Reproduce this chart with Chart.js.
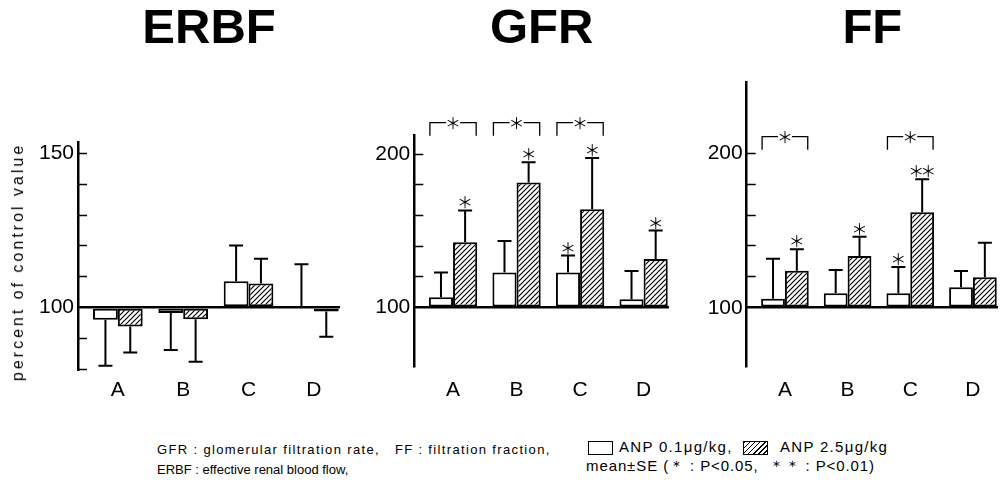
<!DOCTYPE html>
<html>
<head>
<meta charset="utf-8">
<script src="https://cdn.jsdelivr.net/npm/chart.js@4/dist/chart.umd.min.js"></script>
<style>
  body { margin: 0; background: #fff; }
  #page { position: relative; width: 1002px; height: 480px; overflow: hidden; background: #fff;
          font-family: 'Liberation Sans', Arial, sans-serif; color: #000; }
  canvas { position: absolute; top: 0; }
  .txt { position: absolute; white-space: nowrap; line-height: 14px; }
  .note { font-size: 13px; }
  .leg { font-size: 15px; letter-spacing: 1.3px; }
  .box { position: absolute; width: 23px; height: 12px; border: 1.5px solid #000; background: #fff; }
  .box.hatch { background: repeating-linear-gradient(135deg, #000 0 1.2px, #fff 1.2px 3.6px); }
  #ytitle { position: absolute; left: 17.5px; top: 262px; font-size: 16px; letter-spacing: 3px;
            white-space: nowrap; transform: translate(-50%, -50%) rotate(-90deg); }
</style>
</head>
<body>
<div id="page">
  <canvas id="erbf" width="345" height="410" style="left:0px"></canvas>
  <canvas id="gfr" width="335" height="410" style="left:345px"></canvas>
  <canvas id="ff" width="322" height="410" style="left:680px"></canvas>
  <div id="ytitle">percent of control value</div>

  <div class="txt note" style="left:157px; top:443px; letter-spacing:1.35px">GFR : glomerular filtration rate,&nbsp;&nbsp; FF : filtration fraction,</div>
  <div class="txt note" style="left:157px; top:463px">ERBF : effective renal blood flow,</div>

  <div class="box" style="left:588px; top:441px"></div>
  <div class="txt leg" style="left:619px; top:440px">ANP 0.1μg/kg,</div>
  <div class="box hatch" style="left:743px; top:441px"></div>
  <div class="txt leg" style="left:780px; top:440px">ANP 2.5μg/kg</div>
  <div class="txt leg" style="left:586px; top:459px; letter-spacing:0.9px">mean±SE (＊ : P&lt;0.05,&nbsp; ＊＊ : P&lt;0.01)</div>
</div>

<script>
const groups = ['A', 'B', 'C', 'D'];

// ERBF (% of control), ANP 0.1 / 2.5 ug/kg, with SE
const erbfLow = [96.0, 98.2, 108.5, 100.0];
const erbfLowSE = [14.9, 12.0, 11.6, 14.0];
const erbfHigh = [93.8, 96.2, 107.8, 98.7];
const erbfHighSE = [8.4, 13.8, 8.0, 8.2];

// GFR
const gfrLow = [106.7, 122.8, 122.8, 105.4];
const gfrLowSE = [16.1, 20.5, 11.1, 18.5];
const gfrHigh = [142.6, 181.5, 164.1, 131.7];
const gfrHighSE = [20.7, 13.1, 33.3, 18.5];
const gfrLowSig = ['', '', '*', ''];
const gfrHighSig = ['*', '*', '*', '*'];
const gfrPairSig = ['*', '*', '*', ''];

// FF
const ffLow = [105.8, 109.3, 109.3, 113.2];
const ffLowSE = [25.9, 15.1, 17.0, 10.6];
const ffHigh = [124.0, 133.5, 161.8, 119.7];
const ffHighSE = [13.8, 12.5, 21.4, 22.4];
const ffLowSig = ['', '', '*', ''];
const ffHighSig = ['*', '*', '**', ''];
const ffPairSig = ['*', '', '*', ''];

const FONT = "'Liberation Sans', Arial, sans-serif";

function makeHatch() {
    const c = document.createElement('canvas');
    c.width = 5; c.height = 5;
    const g = c.getContext('2d');
    g.fillStyle = '#fff';
    g.fillRect(0, 0, 5, 5);
    g.strokeStyle = '#000';
    g.lineWidth = 1.2;
    g.beginPath();
    g.moveTo(0, 5); g.lineTo(5, 0);
    g.moveTo(-1, 1); g.lineTo(1, -1);
    g.moveTo(4, 6); g.lineTo(6, 4);
    g.stroke();
    return g.createPattern(c, 'repeat');
}
const hatch = makeHatch();

function drawStars(ctx, marks, x, y) {
    const n = marks.length;
    for (let k = 0; k < n; k++) {
        ctx.fillText('＊', x + (k - (n - 1) / 2) * 12, y);
    }
}

// error bars, significance marks and brackets between the pair
const errorBars = {
    id: 'errorBars',
    afterDatasetsDraw(chart, args, opts) {
        const ctx = chart.ctx;
        const yScale = chart.scales.y;
        ctx.save();
        ctx.strokeStyle = '#000';
        ctx.fillStyle = '#000';
        ctx.lineWidth = 2;
        ctx.font = "16px 'Noto Sans CJK JP', 'DejaVu Sans', sans-serif";
        ctx.textAlign = 'center';
        ctx.textBaseline = 'middle';
        chart.data.datasets.forEach((ds, di) => {
            const meta = chart.getDatasetMeta(di);
            meta.data.forEach((bar, i) => {
                const v = ds.data[i].y;
                const end = v < 100 ? v - ds.se[i] : v + ds.se[i];
                const py = yScale.getPixelForValue(end);
                ctx.beginPath();
                ctx.moveTo(bar.x, bar.y);
                ctx.lineTo(bar.x, py);
                ctx.moveTo(bar.x - 7, py);
                ctx.lineTo(bar.x + 7, py);
                ctx.stroke();
                if (ds.sig && ds.sig[i]) drawStars(ctx, ds.sig[i], bar.x, py - 8);
            });
        });
        if (opts.pairs) {
            const m0 = chart.getDatasetMeta(0), m1 = chart.getDatasetMeta(1);
            const yb = yScale.getPixelForValue(opts.level);
            ctx.lineWidth = 1.3;
            opts.pairs.forEach((s, i) => {
                if (!s) return;
                const b0 = m0.data[i], b1 = m1.data[i];
                const x1 = b0.x - b0.width / 2 + 1, x2 = b1.x + b1.width / 2 - 1;
                const xm = (x1 + x2) / 2;
                ctx.beginPath();
                ctx.moveTo(x1, yb + 13); ctx.lineTo(x1, yb); ctx.lineTo(xm - 7, yb);
                ctx.moveTo(xm + 7, yb); ctx.lineTo(x2, yb); ctx.lineTo(x2, yb + 13);
                ctx.stroke();
                drawStars(ctx, s, xm, yb);
            });
        }
        ctx.restore();
    }
};

function makePanel(id, p) {
    const ctx = document.getElementById(id).getContext('2d');
    return new Chart(ctx, {
        type: 'bar',
        data: {
            datasets: [{
                label: 'ANP 0.1μg/kg',
                data: groups.map((g, i) => ({ x: i, y: p.low[i] })),
                se: p.lowSE,
                sig: p.lowSig,
                backgroundColor: '#fff'
            }, {
                label: 'ANP 2.5μg/kg',
                data: groups.map((g, i) => ({ x: i, y: p.high[i] })),
                se: p.highSE,
                sig: p.highSig,
                backgroundColor: hatch
            }]
        },
        options: {
            responsive: false,
            animation: false,
            base: 100,
            borderColor: '#000',
            borderWidth: 2,
            borderSkipped: false,
            categoryPercentage: 0.76,
            barPercentage: 1.0,
            layout: { padding: { top: 0, left: 0, right: p.padRight, bottom: 0 } },
            plugins: {
                legend: { display: false },
                tooltip: { enabled: false },
                title: {
                    display: true,
                    text: p.title,
                    fullSize: false,
                    color: '#000',
                    font: { family: FONT, size: 49, weight: 'bold', lineHeight: 1.2 },
                    padding: { top: 0, bottom: p.titleGap }
                },
                errorBars: { pairs: p.pairs, level: p.bracketLevel }
            },
            scales: {
                x: {
                    type: 'linear',
                    offset: false,
                    min: -0.61,
                    max: 3.4,
                    afterFit: s => { s.height = p.xHeight; },
                    afterBuildTicks: s => { s.ticks = groups.map((g, i) => ({ value: i })); },
                    ticks: {
                        stepSize: 1,
                        autoSkip: false,
                        maxRotation: 0,
                        padding: p.xPad,
                        color: '#000',
                        font: { family: FONT, size: 21 },
                        callback: v => groups[v] || ''
                    },
                    grid: { display: false, drawTicks: false, offset: false },
                    border: { display: false }
                },
                y: {
                    min: p.yMin,
                    max: p.yMax,
                    afterFit: s => { s.width = p.yWidth; },
                    afterBuildTicks: s => {
                        s.ticks = s.ticks.filter(t => t.value >= p.tickFrom && t.value <= p.tickTo);
                    },
                    ticks: {
                        stepSize: p.step,
                        includeBounds: false,
                        autoSkip: false,
                        padding: 13,
                        color: '#000',
                        font: { family: FONT, size: 21 },
                        callback: v => p.yLabels.includes(v) ? String(v) : ''
                    },
                    grid: {
                        drawOnChartArea: true,
                        color: c => (c.tick && c.tick.value === 100) ? '#000' : 'rgba(0,0,0,0)',
                        lineWidth: c => (c.tick && c.tick.value === 100) ? 2.5 : 1,
                        tickLength: -9,
                        tickColor: '#000',
                        tickWidth: 1.5
                    },
                    border: { display: true, color: '#000', width: 2.5 }
                }
            }
        },
        plugins: [errorBars]
    });
}

makePanel('erbf', {
    title: 'ERBF',
    low: erbfLow, lowSE: erbfLowSE, high: erbfHigh, highSE: erbfHighSE,
    yMin: 79.5, yMax: 153.5, step: 10, tickFrom: 80, tickTo: 150, yLabels: [100, 150],
    yWidth: 78, padRight: 5, titleGap: 83.8, xHeight: 39.4, xPad: 7
});

makePanel('gfr', {
    title: 'GFR',
    low: gfrLow, lowSE: gfrLowSE, high: gfrHigh, highSE: gfrHighSE,
    lowSig: gfrLowSig, highSig: gfrHighSig, pairs: gfrPairSig, bracketLevel: 220.4,
    yMin: 62, yMax: 212, step: 20, tickFrom: 100, tickTo: 200, yLabels: [100, 200],
    yWidth: 69.3, padRight: 11, titleGap: 76.8, xHeight: 44, xPad: 11.6
});

makePanel('ff', {
    title: 'FF',
    low: ffLow, lowSE: ffLowSE, high: ffHigh, highSE: ffHighSE,
    lowSig: ffLowSig, highSig: ffHighSig, pairs: ffPairSig, bracketLevel: 210.8,
    yMin: 62, yMax: 246, step: 20, tickFrom: 100, tickTo: 200, yLabels: [100, 200],
    yWidth: 66.7, padRight: 4, titleGap: 23.5, xHeight: 43.6, xPad: 11.2
});
</script>
</body>
</html>
